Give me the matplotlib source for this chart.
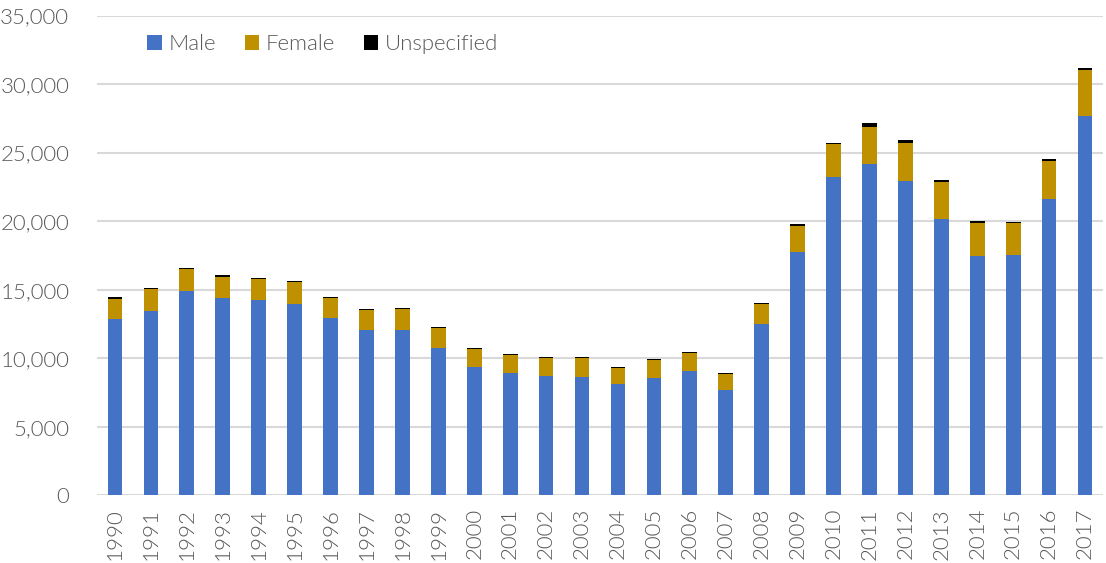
import matplotlib
matplotlib.use("Agg")
import matplotlib.pyplot as plt
import numpy as np

# Data
years = [str(y) for y in range(1990, 2018)]
male = [12890, 13470, 14900, 14420, 14270, 13980, 12960, 12080, 12040, 10770,
        9390, 8930, 8730, 8660, 8100, 8540, 9100, 7710, 12520, 17770,
        23240, 24210, 22920, 20200, 17480, 17550, 21610, 27710]
female = [1450, 1560, 1610, 1530, 1510, 1560, 1460, 1420, 1550, 1420,
          1290, 1290, 1310, 1380, 1220, 1310, 1310, 1120, 1440, 1920,
          2400, 2650, 2770, 2670, 2380, 2310, 2770, 3330]
unspecified = [110, 90, 70, 100, 70, 90, 70, 70, 80, 90,
               70, 70, 50, 50, 50, 80, 50, 70, 90, 100,
               100, 310, 220, 150, 150, 70, 150, 120]

plt.rcParams['font.family'] = ['Lato', 'DejaVu Sans']
plt.rcParams['font.weight'] = 300
text_color = "#595959"

fig = plt.figure(figsize=(11.06, 5.63), dpi=100)
ax = fig.add_axes([0.0877, 0.1199, 0.9096, 0.8522])

x = np.arange(len(years))
w = 0.41
male_arr = np.array(male)
fem_arr = np.array(female)
b1 = ax.bar(x, male, w, color="#4472C4", label="Male", zorder=3)
b2 = ax.bar(x, female, w, bottom=male_arr, color="#BF9000", label="Female", zorder=3)
b3 = ax.bar(x, unspecified, w, bottom=male_arr + fem_arr, color="#000000",
            label="Unspecified", zorder=3)

ax.set_xlim(-0.5, len(years) - 0.5)
ax.set_ylim(0, 35000)
ax.set_yticks(range(0, 35001, 5000))
ax.set_yticklabels([f"{v:,}" for v in range(0, 35001, 5000)])
ax.set_xticks(x)
ax.set_xticklabels(years, rotation=90)

ax.grid(axis="y", color="#d9d9d9", linewidth=1.5, zorder=0)
for s in ax.spines.values():
    s.set_visible(False)
ax.tick_params(axis="y", length=0, pad=20, labelsize=16, labelcolor=text_color)
ax.tick_params(axis="x", length=0, pad=9, labelsize=16, labelcolor=text_color)

fig.legend(handles=[b1, b2, b3], loc="upper left", bbox_to_anchor=(0.115, 0.975),
           ncol=3, frameon=False, fontsize=16, labelcolor=text_color,
           handlelength=0.65, handleheight=0.65, handletextpad=0.3,
           columnspacing=1.3)

fig.savefig("out.png", dpi=100)
